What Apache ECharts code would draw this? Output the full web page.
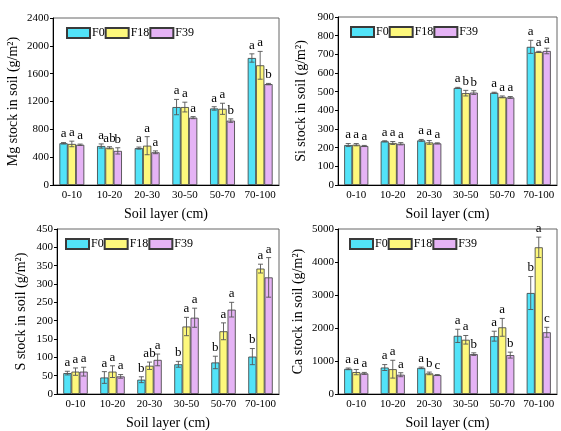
<!DOCTYPE html>
<html><head><meta charset="utf-8">
<script src="https://cdn.jsdelivr.net/npm/echarts@6/dist/echarts.min.js"></script>
<style>html,body{margin:0;padding:0;background:#fff}#c{width:561px;height:431px}</style>
</head><body><div id="c"></div>
<script>
const categories = ['0-10','10-20','20-30','30-50','50-70','70-100'];
const seriesNames = ['F0','F18','F39'];

const mgF0 = [600, 560, 530, 1120, 1100, 1825];
const mgF18 = [590, 535, 565, 1120, 1095, 1720];
const mgF39 = [578, 490, 470, 968, 925, 1450];
const mgErrF0 = [10, 30, 15, 110, 25, 60];
const mgErrF18 = [40, 15, 130, 70, 80, 200];
const mgErrF39 = [10, 45, 20, 15, 25, 10];
const mgLetF0 = ['a','a','a','a','a','a'];
const mgLetF18 = ['a','ab','a','a','a','a'];
const mgLetF39 = ['a','b','a','a','b','b'];

const siF0 = [214, 234, 239, 520, 494, 740];
const siF18 = [216, 225, 228, 492, 472, 713];
const siF39 = [209, 221, 223, 495, 469, 718];
const siErrF0 = [8, 3, 5, 3, 3, 35];
const siErrF18 = [6, 8, 10, 15, 5, 3];
const siErrF39 = [3, 6, 3, 10, 5, 15];
const siLetF0 = ['a','a','a','a','a','a'];
const siLetF18 = ['a','a','a','b','a','a'];
const siLetF39 = ['a','a','a','b','a','a'];

const sF0 = [57, 45, 39, 81, 86, 102];
const sF18 = [61, 61, 77, 184, 171, 342];
const sF39 = [61, 48, 93, 208, 230, 318];
const sErrF0 = [5, 16, 8, 8, 17, 22];
const sErrF18 = [10, 16, 10, 25, 23, 12];
const sErrF39 = [12, 5, 16, 26, 20, 54];
const sLetF0 = ['a','a','b','b','b','b'];
const sLetF18 = ['a','a','ab','a','a','a'];
const sLetF39 = ['a','a','a','a','a','a'];

const caF0 = [762, 802, 792, 1762, 1752, 3060];
const caF18 = [663, 752, 624, 1643, 2020, 4445];
const caF39 = [624, 584, 574, 1208, 1178, 1871];
const caErrF0 = [25, 90, 25, 200, 150, 500];
const caErrF18 = [80, 270, 40, 130, 270, 310];
const caErrF39 = [30, 60, 15, 40, 90, 150];
const caLetF0 = ['a','a','a','a','a','b'];
const caLetF18 = ['a','a','b','a','a','a'];
const caLetF39 = ['a','a','c','b','b','c'];

const yMax = [2400, 900, 450, 5000];
const yInterval = [400, 100, 50, 1000];
const yNames = ['Mg stock in soil (g/m²)','Si stock in soil (g/m²)','S stock in soil (g/m²)','Ca stock in soil (g/m²)'];

const panels = [
  {vals:[mgF0,mgF18,mgF39], errs:[mgErrF0,mgErrF18,mgErrF39], lets:[mgLetF0,mgLetF18,mgLetF39]},
  {vals:[siF0,siF18,siF39], errs:[siErrF0,siErrF18,siErrF39], lets:[siLetF0,siLetF18,siLetF39]},
  {vals:[sF0,sF18,sF39], errs:[sErrF0,sErrF18,sErrF39], lets:[sLetF0,sLetF18,sLetF39]},
  {vals:[caF0,caF18,caF39], errs:[caErrF0,caErrF18,caErrF39], lets:[caLetF0,caLetF18,caLetF39]}
];

const colors = ['#52e3f8','#fdf87c','#e5b3f5'];
const FONT = 'Liberation Serif';
const catGap = 0.34;

const grids = [
  {left:53, top:18, width:226, height:167},
  {left:338, top:17, width:219, height:168},
  {left:57, top:229, width:222, height:168},
  {left:338, top:229, width:219, height:168}
];
const legendPos = [{left:61, top:22},{left:345, top:21},{left:60, top:233},{left:344, top:233}];
const nameGaps = [33, 30, 29, 33];

const option = {
  animation:false,
  grid: grids.map(g => Object.assign({show:true, borderColor:'#666', borderWidth:1, backgroundColor:'transparent'}, g)),
  legend: [], xAxis: [], yAxis: [], series: []
};

panels.forEach((p, pi) => {
  option.xAxis.push({
    type:'category', gridIndex:pi, data:categories,
    name:'Soil layer (cm)', nameLocation:'middle', nameGap:22,
    nameTextStyle:{fontFamily:FONT, fontSize:14, color:'#000'},
    axisLine:{lineStyle:{color:'#000', width:1}},
    axisTick:{alignWithLabel:true, length:3, lineStyle:{color:'#000'}},
    axisLabel:{fontFamily:FONT, fontSize:11, color:'#000', margin:5, interval:0}
  });
  option.yAxis.push({
    type:'value', gridIndex:pi, min:0, max:yMax[pi], interval:yInterval[pi],
    name:yNames[pi], nameLocation:'middle', nameGap:nameGaps[pi],
    nameTextStyle:{fontFamily:FONT, fontSize:14, color:'#000'},
    splitLine:{show:false},
    axisLine:{show:true, lineStyle:{color:'#000', width:1}},
    axisTick:{show:true, length:3, lineStyle:{color:'#000'}},
    axisLabel:{fontFamily:FONT, fontSize:11, color:'#000', margin:4, formatter:v => String(v)}
  });
  const legNames = [];
  seriesNames.forEach((sn, si) => {
    legNames.push(sn);
    option.series.push({
      type:'bar', name:sn, xAxisIndex:pi, yAxisIndex:pi, data:p.vals[si],
      barGap:'0%', barCategoryGap:(catGap*100)+'%',
      itemStyle:{color:colors[si], borderColor:'#3a3a3a', borderWidth:0.8}
    });
  });
  option.legend.push(Object.assign({
    data:legNames.map(n => ({name:n, icon:'rect'})), orient:'horizontal', itemWidth:23, itemHeight:10, itemGap:0,
    textStyle:{fontFamily:FONT, fontSize:12, color:'#000', padding:[0,0,0,-3]},
    selectedMode:false
  }, legendPos[pi]));
  seriesNames.forEach((sn, si) => {
    const data = p.vals[si].map((v, i) => [i, v, p.errs[si][i], p.lets[si][i]]);
    option.series.push({
      type:'custom', xAxisIndex:pi, yAxisIndex:pi, z:5,
      data:data,
      renderItem:(params, api) => {
        const i = api.value(0), v = api.value(1), e = api.value(2);
        const letter = data[params.dataIndex][3];
        const cw = api.size([1,0])[0];
        const bw = cw*(1-catGap)/3;
        const cx = api.coord([i, 0])[0] + (si-1)*bw;
        const yTop = api.coord([i, v+e])[1];
        const yBot = api.coord([i, Math.max(0, v-e)])[1];
        const cap = 2.5;
        const st = {stroke:'#555', lineWidth:0.9};
        return {type:'group', children:[
          {type:'line', shape:{x1:cx, y1:yTop, x2:cx, y2:yBot}, style:st},
          {type:'line', shape:{x1:cx-cap, y1:yTop, x2:cx+cap, y2:yTop}, style:st},
          {type:'line', shape:{x1:cx-cap, y1:yBot, x2:cx+cap, y2:yBot}, style:st},
          {type:'text', style:{text:letter, x:cx, y:yTop-2, textAlign:'center', textVerticalAlign:'bottom',
            font:'13px "Liberation Serif"', fill:'#000'}}
        ]};
      }
    });
  });
});

const chart = echarts.init(document.getElementById('c'), null, {renderer:'canvas'});
chart.setOption(option);
</script></body></html>
